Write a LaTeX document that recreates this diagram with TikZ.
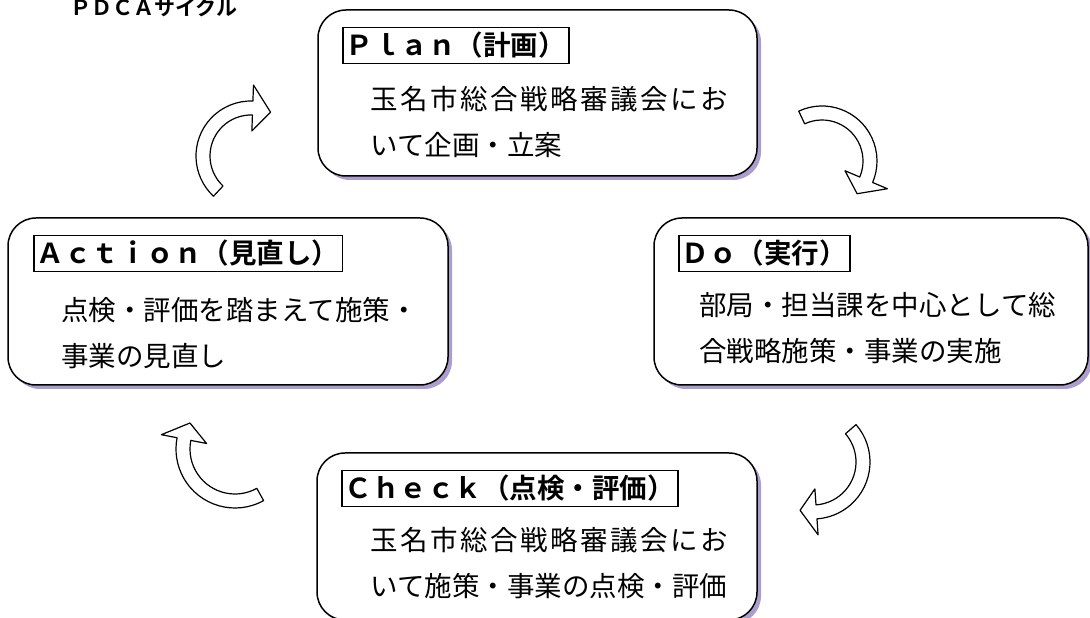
\documentclass[tikz,border=0pt]{standalone}
\usepackage{fontspec}
\setmainfont{Noto Sans CJK JP}[BoldFont={Noto Sans CJK JP Bold}]
\usepackage{tikz}
\usetikzlibrary{shadows}
\definecolor{shadowlilac}{RGB}{172,158,204}

% spread the characters of a line over a given width
\def\spreadend{\relax}
\def\spreadchars#1#2{#1\ifx#2\spreadend\else\hfil\expandafter\spreadchars\expandafter#2\fi}
\newcommand{\spreadline}[2]{\makebox[#1][s]{\spreadchars#2\spreadend}}

% curved block arrow: centre, radius, start angle, end angle, tip angle
\newcommand{\cyclearrow}[5]{%
  \draw[turnarrow] ([shift={(#3:{#2+7})}]#1)
    arc[start angle=#3, end angle=#4, radius=#2+7]
    -- ([shift={(#4:{#2+23})}]#1) -- ([shift={(#5:{#2})}]#1)
    -- ([shift={(#4:{#2-23})}]#1) -- ([shift={(#4:{#2-7})}]#1)
    arc[start angle=#4, end angle=#3, radius=#2-7] -- cycle;}

\begin{document}
\begin{tikzpicture}[x=1pt, y=1pt,
    phase/.style={draw, line width=1.5pt, rounded corners=28pt, fill=white,
      drop shadow={shadow xshift=4pt, shadow yshift=-4pt, fill=shadowlilac, opacity=1}},
    phasetitle/.style={draw, line width=1.3pt, anchor=west, inner xsep=3pt,
      minimum height=36pt, font=\fontsize{27.5pt}{33pt}\selectfont\bfseries},
    phasetext/.style={anchor=west, align=left, inner sep=0pt,
      font=\fontsize{27.5pt}{46pt}\selectfont},
    turnarrow/.style={draw, line width=1.2pt, fill=white, line join=round}]
    \clip (0,0) rectangle (1090,618);

    \node[anchor=base west, inner sep=0pt, font=\fontsize{21pt}{21pt}\selectfont\bfseries]
        at (70,602) (cycle) {ＰＤＣＡサイクル};

    % the four phases
    \node[phase, minimum width=439pt, minimum height=166pt] at (537.5,525) (P) {};
    \node[phase, minimum width=434pt, minimum height=167pt] at (871,316.5) (D) {};
    \node[phase, minimum width=440pt, minimum height=167pt] at (537,81.5)  (C) {};
    \node[phase, minimum width=440pt, minimum height=167pt] at (228,316.5) (A) {};

    \node[phasetitle] at ([shift={(25,-36)}]P.north west) (PT) {Ｐｌａｎ（計画）};
    \node[phasetitle] at ([shift={(25,-36)}]D.north west) (DT) {Ｄｏ（実行）};
    \node[phasetitle] at ([shift={(25,-36)}]C.north west) (CT) {Ｃｈｅｃｋ（点検・評価）};
    \node[phasetitle] at ([shift={(26,-36)}]A.north west) (AT) {Ａｃｔｉｏｎ（見直し）};

    \node[phasetext] at ([shift={(53,-113)}]P.north west) (PB)
        {\spreadline{358pt}{玉名市総合戦略審議会にお}\\いて企画・立案};
    \node[phasetext] at ([shift={(46,-111)}]D.north west) (DB)
        {部局・担当課を中心として総\\合戦略施策・事業の実施};
    \node[phasetext] at ([shift={(54,-111)}]C.north west) (CB)
        {\spreadline{358pt}{玉名市総合戦略審議会にお}\\いて施策・事業の点検・評価};
    \node[phasetext] at ([shift={(54,-116)}]A.north west) (AB)
        {点検・評価を踏まえて施策・\\事業の見直し};

    % arrows between the phases
    \cyclearrow{251,462}{48}{227}{88}{66}
    \cyclearrow{822,457}{48}{115}{-23}{-43}
    \cyclearrow{813,156}{50}{41}{-86}{-105}
    \cyclearrow{235,169}{52}{-61}{-191}{-210}
\end{tikzpicture}
\end{document}
